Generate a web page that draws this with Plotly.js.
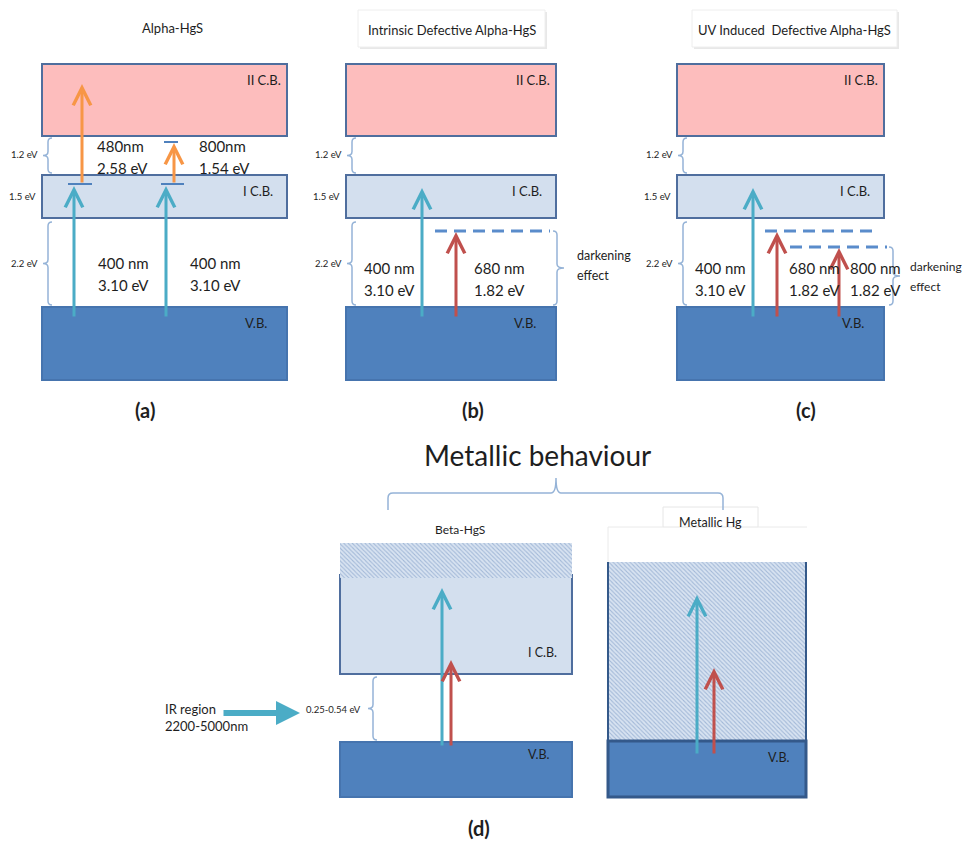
<!DOCTYPE html>
<html><head><meta charset="utf-8">
<script src="https://cdn.plot.ly/plotly-3.0.1.min.js"></script>
<style>html,body{margin:0;padding:0;background:#fff}#chart{width:962px;height:841px}</style>
</head><body><div id="chart"></div>
<script>
// ---------- Data: panels (a)-(c), band diagram in diagram units (px-like energy scale) ----------
const panelTitles = ['Alpha-HgS', 'Intrinsic Defective Alpha-HgS', 'UV Induced  Defective Alpha-HgS'];
const panelLetters = ['(a)', '(b)', '(c)'];
const panelLeft = [42, 346, 677];
const panelRight = [287, 556, 884];
const bandLabels = ['II C.B.', 'I C.B.', 'V.B.'];
const bandTop = [64, 175, 307];
const bandBottom = [136, 218, 380];
const gapLabels = ['1.2 eV', '1.5 eV', '2.2 eV'];
const gapLabelY = [154, 196, 263];

// transitions (a)-(c)
const arrX    = [74, 166, 82, 174, 422, 456, 753, 777, 839];
const arrFrom = [318, 318, 184, 184, 318, 318, 318, 318, 318];
const arrTo   = [186, 186, 84, 143, 188, 232, 188, 232, 248];
const arrKind = ['uv', 'uv', 'vis', 'vis', 'uv', 'red', 'uv', 'red', 'red'];

// defect levels
const levelX0 = [68, 161, 164];
const levelX1 = [92, 184, 178];
const levelY  = [184, 184, 142];
const defectX0 = [435, 765, 790];
const defectX1 = [550, 877, 887];
const defectY  = [231, 231, 247];

// labels of transitions
const transTop    = ['480nm', '800nm', '400 nm', '400 nm', '400 nm', '680 nm', '400 nm', '680 nm', '800 nm'];
const transBottom = ['2.58 eV', '1.54 eV', '3.10 eV', '3.10 eV', '3.10 eV', '1.82 eV', '3.10 eV', '1.82 eV', '1.82 eV'];
const transLabelX = [95, 197, 96, 188, 362, 472, 693, 787, 848];
const transLabelY = [146, 146, 263, 263, 268, 268, 268, 268, 268];

// ---------- Data: panel (d) ----------
const dTitle = 'Metallic behaviour';
const dPanels = ['Beta-HgS', 'Metallic Hg'];
const dLeft = [340, 608];
const dRight = [572, 806];
const dHatchTop = [543, 562];
const dHatchBottom = [578, 741];
const dCBTop = [575, null];
const dCBBottom = [674, null];
const dVBTop = [742, 741];
const dVBBottom = [797, 797];
const dArrX = [442, 451, 697, 714];
const dArrFrom = [747, 747, 755, 755];
const dArrTo = [588, 660, 595, 668];
const dArrKind = ['uv', 'red', 'uv', 'red'];
const dGapLabel = '0.25-0.54 eV';
const irText = ['IR region', '2200-5000nm'];

// ---------- Styles ----------
const C = {
  pink: '#FDBDBD', lightBlue: '#D3DFEE', vb: '#4F81BD', border: '#4F6E9E', darkBorder: '#34598A',
  uv: '#4BACC6', red: '#C0504D', vis: '#F79646', brace: '#95B3D7', text: '#1e1e1e'
};
const FONT = 'Lato, "Open Sans", sans-serif';

const shapes = [];
const annotations = [];

function txt(x, y, t, size, opts) {
  annotations.push(Object.assign({
    x: x, y: y, xref: 'x', yref: 'y', text: t, showarrow: false,
    xanchor: 'left', yanchor: 'middle', font: {family: FONT, size: size, color: C.text}
  }, opts || {}));
}
function arrow(x0, y0, x1, y1, color, w, size, head) {
  annotations.push({
    x: x1, y: y1, ax: x0, ay: y0, xref: 'x', yref: 'y', axref: 'x', ayref: 'y',
    text: '', showarrow: true, arrowhead: head || 5, arrowsize: size || 1.15, arrowwidth: w || 3,
    arrowcolor: color, standoff: 0
  });
}
function leftBrace(x, y0, y1, tick) {
  const ym = (y0 + y1) / 2;
  shapes.push({type: 'path', xref: 'x', yref: 'y', line: {color: C.brace, width: 1.5},
    path: `M ${x+4},${y0} Q ${x},${y0} ${x},${y0+4} L ${x},${ym-4} Q ${x},${ym} ${x-(tick||5)},${ym} Q ${x},${ym} ${x},${ym+4} L ${x},${y1-4} Q ${x},${y1} ${x+4},${y1}`});
}
function rightBrace(x, y0, y1, tick) {
  const ym = (y0 + y1) / 2;
  shapes.push({type: 'path', xref: 'x', yref: 'y', line: {color: C.brace, width: 1.5},
    path: `M ${x-4},${y0} Q ${x},${y0} ${x},${y0+4} L ${x},${ym-4} Q ${x},${ym} ${x+(tick||6)},${ym} Q ${x},${ym} ${x},${ym+4} L ${x},${y1-4} Q ${x},${y1} ${x-4},${y1}`});
}
function rect(x0, y0, x1, y1, fill, line, lw, layer) {
  shapes.push({type: 'rect', xref: 'x', yref: 'y', x0: x0, x1: x1, y0: y0, y1: y1,
    fillcolor: fill, line: {color: line, width: lw === undefined ? 2 : lw}, layer: layer || 'above'});
}
function seg(x0, y0, x1, y1, color, w, dash) {
  shapes.push({type: 'line', xref: 'x', yref: 'y', x0: x0, x1: x1, y0: y0, y1: y1,
    line: {color: color, width: w, dash: dash || 'solid'}});
}

// ---------- Panels (a)-(c) ----------
const bandFills = [C.pink, C.lightBlue, C.vb];
for (let p = 0; p < 3; p++) {
  const L = panelLeft[p], R = panelRight[p];
  for (let b = 0; b < 3; b++) {
    rect(L, bandTop[b], R, bandBottom[b], bandFills[b], b === 2 ? '#4674AE' : C.border, 2, 'below');
  }
  const cx = (L + R) / 2;
  if (p === 0) {
    txt(cx + 8, 28, panelTitles[p], 13, {xanchor: 'center'});
  } else {
    const bx0 = p === 1 ? 358 : 692, bx1 = p === 1 ? 545 : 897;
    shapes.push({type: 'rect', xref: 'x', yref: 'y', x0: bx0 + 2, x1: bx1 + 2, y0: 12, y1: 49, fillcolor: '#E8E8E8', line: {width: 0}, layer: 'below'});
    shapes.push({type: 'rect', xref: 'x', yref: 'y', x0: bx0, x1: bx1, y0: 10, y1: 47, fillcolor: '#FFFFFF', line: {color: '#EEEEEE', width: 1}, layer: 'below'});
    txt((bx0 + bx1) / 2, 30, panelTitles[p], 13, {xanchor: 'center'});
  }
  txt(R - 4, bandTop[0] + 16, bandLabels[0], 13, {xanchor: 'right'});
  txt(R - 12, bandTop[1] + 16, bandLabels[1], 13, {xanchor: 'right'});
  txt(R - 18, bandTop[2] + 16, bandLabels[2], 13, {xanchor: 'right'});
  leftBrace(L + 6, bandBottom[0] + 2, bandTop[1] - 2, 5);
  leftBrace(L + 6, bandBottom[1] + 4, bandTop[2] - 2, 5);
  txt(L - 2, gapLabelY[0], gapLabels[0], 9.5, {xanchor: 'right'});
  txt(L - 4, gapLabelY[1], gapLabels[1], 9.5, {xanchor: 'right'});
  txt(L - 2, gapLabelY[2], gapLabels[2], 9.5, {xanchor: 'right'});
  txt(p === 0 ? 145 : (p === 1 ? 473 : 806), 410, '<b>' + panelLetters[p] + '</b>', 20, {xanchor: 'center'});
}

for (let i = 0; i < levelX0.length; i++) seg(levelX0[i], levelY[i], levelX1[i], levelY[i], C.vb, 2);
for (let i = 0; i < defectX0.length; i++) seg(defectX0[i], defectY[i], defectX1[i], defectY[i], '#5A8CCB', 3, '12px,7px');
rightBrace(557, 231, 305, 7);
rightBrace(893, 247, 305, 7);
txt(575, 255, 'darkening', 12.5);
txt(575, 275, 'effect', 12.5);
txt(908, 266, 'darkening', 12);
txt(908, 286, 'effect', 12);

const kindColor = {uv: C.uv, red: C.red, vis: C.vis};
for (let i = 0; i < arrX.length; i++) arrow(arrX[i], arrFrom[i], arrX[i], arrTo[i], kindColor[arrKind[i]]);
for (let i = 0; i < transTop.length; i++) {
  txt(transLabelX[i], transLabelY[i], transTop[i], 15);
  txt(transLabelX[i], transLabelY[i] + 22, transBottom[i], 15);
}

// ---------- Panel (d) ----------
txt(537, 455, dTitle, 28, {xanchor: 'center'});
shapes.push({type: 'path', xref: 'x', yref: 'y', line: {color: C.brace, width: 1.5},
  path: 'M 388,510 L 388,498 Q 388,493 393,493 L 551,493 Q 556,493 556,478 Q 556,493 561,493 L 718,493 Q 723,493 723,498 L 723,510'});

txt(460, 529, dPanels[0], 12, {xanchor: 'center'});
rect(dLeft[0], dCBTop[0], dRight[0], dCBBottom[0], C.lightBlue, C.border, 2, 'below');
rect(dLeft[0], dVBTop[0], dRight[0], dVBBottom[0], C.vb, '#4674AE', 2, 'below');
txt(559, 652, 'I C.B.', 12.5, {xanchor: 'right'});
txt(552, 754, 'V.B.', 12.5, {xanchor: 'right'});
leftBrace(373, 677, 740, 5);
txt(363, 709, dGapLabel, 9.5, {xanchor: 'right'});
arrow(222, 713, 300, 713, C.uv, 6, 0.8, 2);
txt(163, 709, irText[0], 13);
txt(163, 726, irText[1], 13);

shapes.push({type: 'rect', xref: 'x', yref: 'y', x0: 663, x1: 758, y0: 507, y1: 527, fillcolor: '#FFFFFF', line: {color: '#E6E6E6', width: 1}, layer: 'below'});
seg(608, 527, 663, 527, '#EAEAEA', 1);
seg(758, 527, 807, 527, '#EAEAEA', 1);
seg(608, 527, 608, 562, '#EAEAEA', 1);
txt(710, 522, dPanels[1], 12.5, {xanchor: 'center'});
seg(dLeft[1], dHatchTop[1], dLeft[1], dHatchBottom[1], C.darkBorder, 2);
seg(dRight[1], dHatchTop[1], dRight[1], dHatchBottom[1], C.darkBorder, 2);
rect(dLeft[1], dVBTop[1], dRight[1], dVBBottom[1], C.vb, C.darkBorder, 3);
txt(792, 757, 'V.B.', 12.5, {xanchor: 'right'});

for (let i = 0; i < dArrX.length; i++) arrow(dArrX[i], dArrFrom[i], dArrX[i], dArrTo[i], kindColor[dArrKind[i]]);
txt(479, 828, '<b>(d)</b>', 20, {xanchor: 'center'});

const hatch = {
  type: 'bar',
  x: dLeft.map((l, i) => (l + dRight[i]) / 2),
  width: dLeft.map((l, i) => dRight[i] - l),
  base: dHatchTop,
  y: dHatchTop.map((t, i) => dHatchBottom[i] - t),
  marker: {color: '#D5E0EF', line: {width: 0},
    pattern: {shape: '\\', fgcolor: '#A3B9D8', bgcolor: '#D8E3F1', size: 3, solidity: 0.35}},
  hoverinfo: 'skip', showlegend: false
};

const layout = {
  width: 962, height: 841, margin: {l: 0, r: 0, t: 0, b: 0},
  paper_bgcolor: '#FFFFFF', plot_bgcolor: '#FFFFFF',
  xaxis: {range: [0, 962], visible: false, fixedrange: true},
  yaxis: {range: [841, 0], visible: false, fixedrange: true},
  showlegend: false, shapes: shapes, annotations: annotations, barmode: 'overlay'
};
Plotly.newPlot('chart', [hatch], layout, {displayModeBar: false, staticPlot: true});
</script>
</body></html>
